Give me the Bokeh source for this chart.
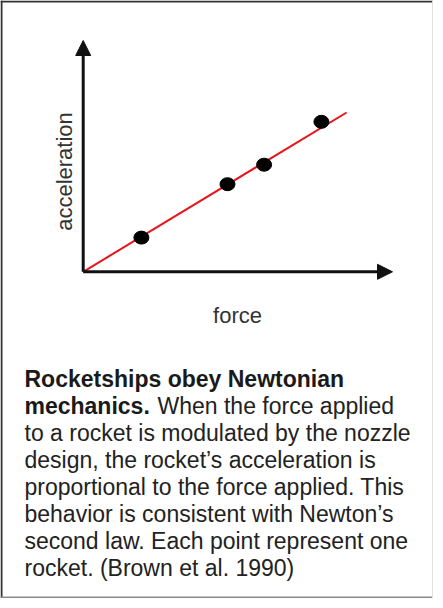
from bokeh.plotting import figure
from bokeh.models import Range1d, Arrow, NormalHead, Label, Span
from bokeh.embed import file_html
from bokeh.resources import INLINE
import math

# ---- data (arbitrary units) ----
force = [1.94, 4.81, 6.03, 7.94]
acceleration = [1.14, 2.92, 3.57, 5.00]
fit_force = [0.0, 8.78]
fit_acceleration = [0.0, 5.31]
axis_force_max = 10.31
axis_acc_max = 7.71

x_label = "force"
y_label = "acceleration"
caption_bold_1 = "Rocketships obey Newtonian"
caption_bold_2 = "mechanics."
caption_rest_2 = "When the force applied"
caption_lines = [
    "to a rocket is modulated by the nozzle",
    "design, the rocket\u2019s acceleration is",
    "proportional to the force applied. This",
    "behavior is consistent with Newton\u2019s",
    "second law. Each point represent one",
    "rocket. (Brown et al. 1990)",
]

W, H = 433, 598
scale = 30.0  # px per unit
x0 = -82.7 / scale
y0 = -326.7 / scale

p = figure(width=W, height=H, output_backend="svg", toolbar_location=None,
           x_range=Range1d(x0, x0 + W / scale), y_range=Range1d(y0, y0 + H / scale),
           x_axis_location=None, y_axis_location=None, min_border=0)
p.grid.visible = False
p.background_fill_color = "white"
p.border_fill_color = "white"
p.outline_line_color = None

# frame border (darker on left/top, lighter bottom, faint right)
p.add_layout(Span(location=1, location_units="screen", dimension="height",
                  line_color="#333333", line_width=2))
p.add_layout(Span(location=H - 1, location_units="screen", dimension="width",
                  line_color="#333333", line_width=2))
p.add_layout(Span(location=1, location_units="screen", dimension="width",
                  line_color="#8a8a8a", line_width=2))
p.add_layout(Span(location=W - 1, location_units="screen", dimension="height",
                  line_color="#e0e0e0", line_width=1))

# axes arrows
p.add_layout(Arrow(x_start=0, y_start=0, x_end=axis_force_max, y_end=0,
                   line_width=3, line_color="#111111",
                   end=NormalHead(size=15, fill_color="#111111", line_color="#111111", line_width=1)))
p.add_layout(Arrow(x_start=0, y_start=0, x_end=0, y_end=axis_acc_max,
                   line_width=3, line_color="#111111",
                   end=NormalHead(size=15, fill_color="#111111", line_color="#111111", line_width=1)))

# fit line
p.line(fit_force, fit_acceleration, line_color="#e8141b", line_width=2)
# points
p.ellipse(force, acceleration, width=15 / scale, height=13 / scale,
          fill_color="black", line_color="black")

FONT = "Liberation Sans"

def screen_y(page_y):
    return 606 - page_y

p.add_layout(Label(x=64, y=screen_y(179), x_units="screen", y_units="screen",
                   text=y_label, angle=math.pi / 2, text_align="center",
                   text_baseline="alphabetic", text_font=FONT, text_font_size="22px",
                   text_color="#333333"))
p.add_layout(Label(x=237, y=screen_y(323), x_units="screen", y_units="screen",
                   text=x_label, text_align="center", text_baseline="alphabetic",
                   text_font=FONT, text_font_size="22px", text_color="#333333"))

base = 386.7
step = 26.9
left = 24
p.add_layout(Label(x=left, y=screen_y(base), x_units="screen", y_units="screen",
                   text=caption_bold_1, text_font=FONT, text_font_size="23px",
                   text_font_style="bold", text_color="#1a1a1a", text_baseline="alphabetic"))
p.add_layout(Label(x=left, y=screen_y(base + step), x_units="screen", y_units="screen",
                   text=caption_bold_2, text_font=FONT, text_font_size="23px",
                   text_font_style="bold", text_color="#1a1a1a", text_baseline="alphabetic"))
p.add_layout(Label(x=157, y=screen_y(base + step), x_units="screen", y_units="screen",
                   text=caption_rest_2, text_font=FONT, text_font_size="23px",
                   text_color="#222222", text_baseline="alphabetic"))
for i, line in enumerate(caption_lines):
    p.add_layout(Label(x=left, y=screen_y(base + step * (i + 2)), x_units="screen",
                       y_units="screen", text=line, text_font=FONT, text_font_size="23px",
                       text_color="#222222", text_baseline="alphabetic"))

open("out.html", "w").write(file_html(p, INLINE))
